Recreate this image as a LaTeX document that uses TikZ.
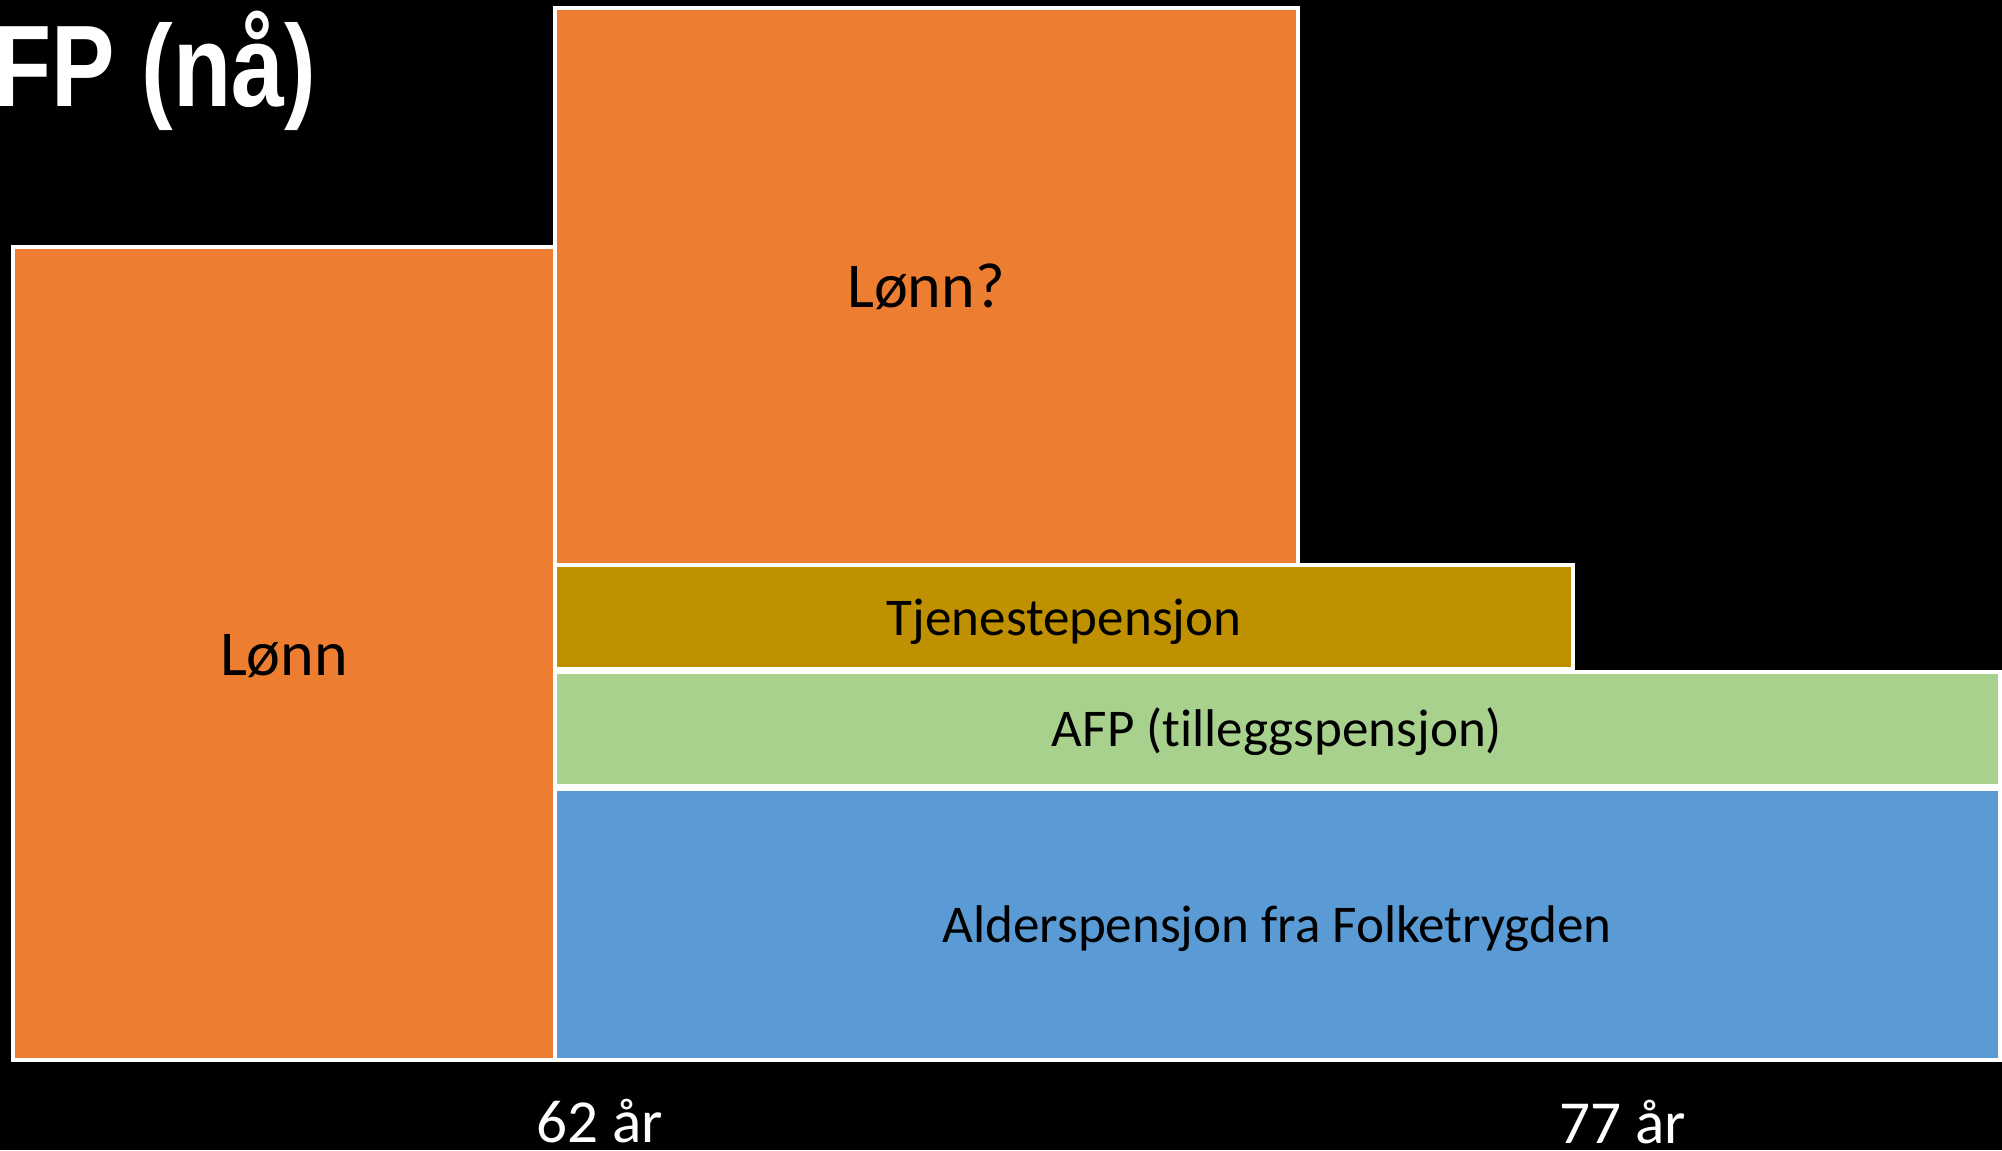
\documentclass[tikz,border=0pt]{standalone}
\usepackage{fontspec}
\usepackage{graphicx}
\setmainfont{Carlito}[Ligatures=NoCommon]
\newfontfamily\titlefont{Liberation Sans}
\definecolor{lonnorange}{HTML}{ED7D31}
\definecolor{tjpgold}{HTML}{BF9000}
\definecolor{afpgreen}{HTML}{A9D18E}
\definecolor{alderblue}{HTML}{5B9BD5}
\tikzset{
	blokk/.style={draw=white,line width=1.2pt},
	tekst/.style={anchor=base,inner sep=0pt},
}
\begin{document}
\begin{tikzpicture}[x=0.1mm,y=-0.1mm]
		\fill[black] (0,0) rectangle (2002,1150);
		\useasboundingbox (0,0) rectangle (2002,1150);
		\foreach \xa/\ya/\xb/\yb/\c in {13/247/555/1060/lonnorange,555/8/1298/565/lonnorange,555/565/1573/669/tjpgold,555/672/2000/786/afpgreen,555/789/2000/1060/alderblue}{
			\draw[blokk,fill=\c] (\xa,\ya)rectangle(\xb,\yb);
		}
		\foreach \n/\x/\y/\s/\f/\t in {lonn/284/675/18.2/black/Lønn,lonnq/926/307/18.2/black/Lønn?,tjp/1064/635/15.1/black/Tjenestepensjon,afp/1277/746/15.1/black/AFP (tilleggspensjon),alder/1277/942/15.1/black/Alderspensjon fra Folketrygden,a62/600/1142/17.4/white/62 år,a77/1623/1143/17.4/white/77 år}{
			\node[tekst,text=\f,font=\fontsize{\s}{\s}\selectfont] (\n) at (\x,\y) {\t};
		}
		\node[anchor=base west,inner sep=0pt,text=white,font=\titlefont\bfseries\fontsize{33}{33}\selectfont] (tittel) at (-7,106) {\scalebox{0.82}[1]{FP (nå)}};
	\end{tikzpicture}
\end{document}
